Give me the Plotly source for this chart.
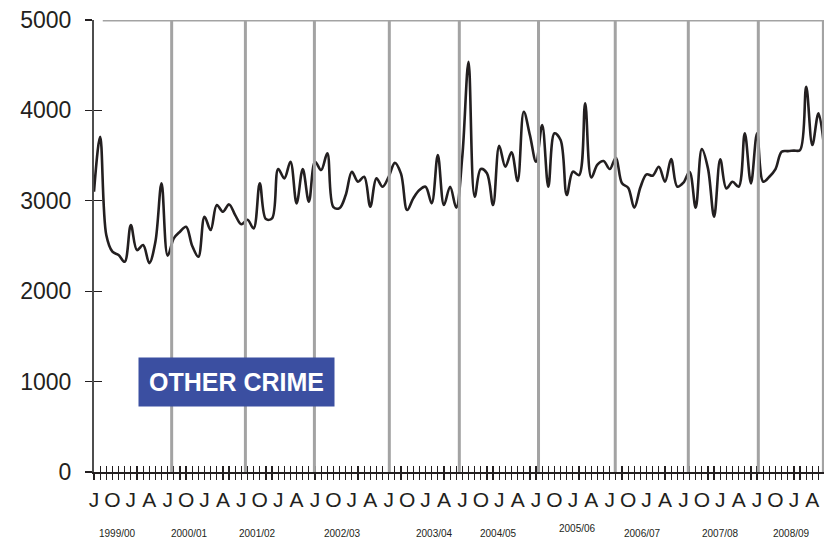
import plotly.graph_objects as go

# Monthly counts, July 1999 (month 0) to June 2009 (month 119)
values = [
    3100, 3708, 2621, 2437, 2400, 2326, 2732, 2455, 2510, 2311, 2547, 3193,
    2393, 2584, 2658, 2713, 2500, 2381, 2824, 2677, 2953, 2879, 2960, 2842,
    2740, 2790, 2695, 3193, 2798, 2806, 3351, 3248, 3432, 2972, 3351, 2990,
    3432, 3340, 3525, 2930, 2920, 3064, 3322, 3211, 3266, 2934, 3248, 3156,
    3266, 3420, 3300, 2898, 3027, 3119, 3156, 2972, 3506, 2953, 3156, 2924,
    3500, 4538, 3045, 3351, 3304, 2953, 3609, 3377, 3536, 3219, 3985, 3727,
    3432, 3838, 3156, 3746, 3672, 3064, 3322, 3285, 4078, 3257, 3400, 3440,
    3351, 3476, 3193, 3145, 2924, 3150, 3293, 3278, 3377, 3211, 3462, 3156,
    3200, 3322, 2924, 3572, 3359, 2824, 3458, 3137, 3211, 3156, 3746, 3193,
    3746, 3211, 3266, 3351, 3543, 3550, 3555, 3561, 4261, 3617, 3967, 3543,
]
months = list(range(len(values)))

quarter_labels = ["J", "O", "J", "A"] * 10
quarter_ticks = list(range(0, 120, 3))

year_labels = ["1999/00", "2000/01", "2001/02", "2002/03", "2003/04",
               "2004/05", "2005/06", "2006/07", "2007/08", "2008/09"]
year_label_pos = [3.9, 15.6, 26.6, 40.5, 55.5, 65.9, 78.8, 89.4, 102.1, 113.6]
year_bounds = [12.65, 24.66, 35.9, 48.1, 59.5, 72.4, 84.9, 96.8, 108.2, 118.8]

y_ticks = [0, 1000, 2000, 3000, 4000, 5000]

FONT = "Liberation Sans, Arial, sans-serif"

fig = go.Figure()
fig.add_trace(go.Scatter(
    x=months, y=values, mode="lines",
    line=dict(color="#231f20", width=2.6, shape="spline", smoothing=1),
    hoverinfo="skip", showlegend=False,
))
# dummy trace to activate the overlay axes (inside half of cross ticks)
fig.add_trace(go.Scatter(x=[None], y=[None], xaxis="x2", yaxis="y2",
                         showlegend=False, hoverinfo="skip"))

shapes = []
for b in year_bounds:
    shapes.append(dict(type="line", xref="x", yref="y", x0=b, x1=b, y0=0, y1=5000,
                       line=dict(color="#a3a3a3", width=3), layer="above"))
shapes.append(dict(type="line", xref="paper", yref="y", x0=0.012, x1=1, y0=5000, y1=5000,
                   line=dict(color="#a3a3a3", width=3), layer="above"))

annotations = []
for lbl, pos in zip(year_labels, year_label_pos):
    yy = -0.125 if lbl == "2005/06" else -0.136
    annotations.append(dict(text=lbl, x=pos, xref="x", y=yy, yref="paper",
                            showarrow=False, xanchor="center", yanchor="middle",
                            font=dict(family=FONT, size=10, color="#231f20")))
annotations.append(dict(text="<b>OTHER CRIME</b>", x=23.2, xref="x", y=1000, yref="y",
                        showarrow=False, xanchor="center", yanchor="middle",
                        bgcolor="#3b4fa1", borderpad=10,
                        font=dict(family=FONT, size=25, color="white")))

fig.update_layout(
    width=826, height=540,
    margin=dict(l=94, r=2, t=20, b=68, autoexpand=False),
    paper_bgcolor="white", plot_bgcolor="white",
    font=dict(family=FONT, color="#231f20"),
    xaxis=dict(range=[0, 118.9], tickvals=quarter_ticks, ticktext=quarter_labels,
               ticks="outside", ticklen=6, tickwidth=1.2, tickcolor="#231f20",
               minor=dict(dtick=1, tick0=0, ticks="outside", ticklen=6,
                          tickwidth=1.2, tickcolor="#231f20"),
               showline=True, linecolor="#231f20", linewidth=1.5,
               showgrid=False, zeroline=False, ticklabelstandoff=2,
               automargin=False,
               tickfont=dict(family=FONT, size=21, color="#231f20")),
    xaxis2=dict(range=[0, 118.9], overlaying="x", anchor="y", side="bottom",
                tickvals=quarter_ticks, showticklabels=False,
                ticks="inside", ticklen=6, tickwidth=1.2, tickcolor="#231f20",
                minor=dict(dtick=1, tick0=0, ticks="inside", ticklen=6,
                           tickwidth=1.2, tickcolor="#231f20"),
                showline=False, showgrid=False, zeroline=False, automargin=False),
    yaxis=dict(range=[0, 5000], tickvals=y_ticks, ticks="outside", ticklen=7,
               tickwidth=1.2, tickcolor="#231f20",
               showline=True, linecolor="#4d4d4d", linewidth=2,
               showgrid=False, zeroline=False, ticklabelstandoff=9,
               automargin=False,
               tickfont=dict(family=FONT, size=23, color="#231f20")),
    yaxis2=dict(range=[0, 5000], overlaying="y", anchor="x", side="left",
                tickvals=y_ticks, showticklabels=False, ticks="inside", ticklen=8,
                tickwidth=1.2, tickcolor="#231f20",
                showline=False, showgrid=False, zeroline=False, automargin=False),
    shapes=shapes, annotations=annotations,
)

fig.write_html("out.html",
               config={"displayModeBar": False, "staticPlot": True},
               post_script="document.body.style.margin='0';document.body.style.overflow='hidden';")
